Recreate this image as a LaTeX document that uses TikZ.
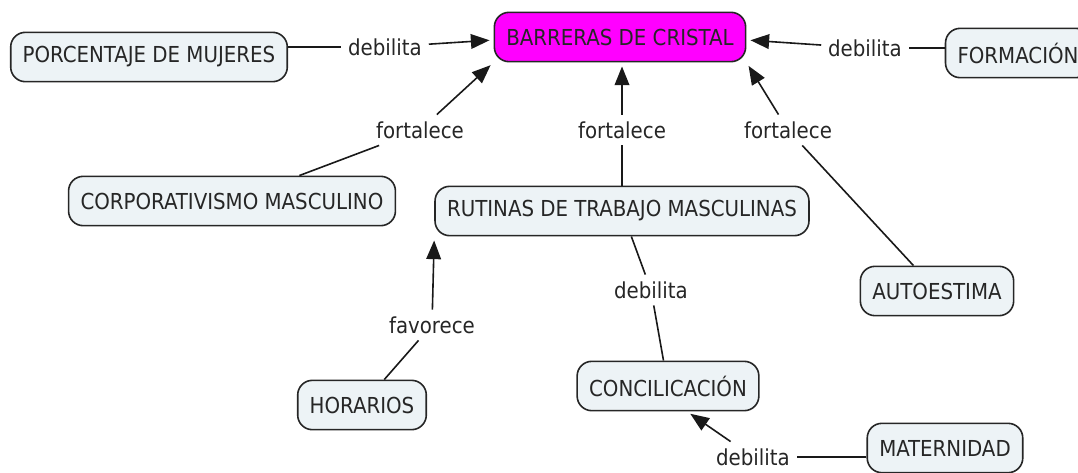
\documentclass[tikz,border=0pt]{standalone}
\usepackage{fontspec}
\setmainfont{DejaVu Sans Condensed}
\usetikzlibrary{calc,arrows.meta}
\definecolor{boxfill}{HTML}{EDF3F6}
\definecolor{boxline}{HTML}{262626}
\definecolor{cristal}{HTML}{FF00FF}
\tikzset{
	concept/.style={draw=boxline, line width=1.2pt, fill=boxfill, rounded corners=11pt,
		minimum height=37pt, inner xsep=9pt, text=black!85, font=\fontsize{16.5}{19}\selectfont},
	linklabel/.style={inner sep=5pt, text=black!85, font=\fontsize{16.5}{19}\selectfont},
	link/.style={line width=1.2pt, black!90},
	linkarrow/.style={link, -{Triangle[length=14pt, width=11pt]}, shorten >=3pt}
}

\begin{document}
\begin{tikzpicture}[x=0.75pt, y=-0.75pt]
		%%%%% START %%%%%
		\useasboundingbox (0, 0) rectangle (1078, 472);
		
		% conceptos
		\node[concept, fill=cristal] (barreras) at (620, 37) {BARRERAS DE CRISTAL};
		\node[concept] (porcentaje) at (149, 57) {PORCENTAJE DE MUJERES};
		\node[concept] (formacion) at (1018, 53) {FORMACIÓN};
		\node[concept] (corporativismo) at (232, 201) {CORPORATIVISMO MASCULINO};
		\node[concept] (rutinas) at (622, 211) {RUTINAS DE TRABAJO MASCULINAS};
		\node[concept] (autoestima) at (937, 291) {AUTOESTIMA};
		\node[concept] (horarios) at (362, 405) {HORARIOS};
		\node[concept] (concilicacion) at (668, 386) {CONCILICACIÓN};
		\node[concept] (maternidad) at (945, 448) {MATERNIDAD};
		
		% frases de enlace
		\node[linklabel] (debilitaA) at (385, 47) {debilita};
		\node[linklabel] (debilitaB) at (865, 48) {debilita};
		\node[linklabel] (fortaleceA) at (420, 130) {fortalece};
		\node[linklabel] (fortaleceB) at (622, 130) {fortalece};
		\node[linklabel] (fortaleceC) at (788, 130) {fortalece};
		\node[linklabel] (favorece) at (432, 325) {favorece};
		\node[linklabel] (debilitaC) at (651, 290) {debilita};
		\node[linklabel] (debilitaD) at (753, 457) {debilita};
		
		% enlaces
		\draw[link] (porcentaje.east |- debilitaA) -- (debilitaA);
		\draw[linkarrow] (debilitaA) -- ($(barreras.west)+(0, 3)$);
		\draw[link] (formacion.west |- debilitaB) -- (debilitaB);
		\draw[linkarrow] (debilitaB) -- ($(barreras.east)+(0, 3)$);
		
		\draw[link] (corporativismo) -- (fortaleceA);
		\draw[linkarrow] (fortaleceA) -- (barreras.south west);
		\draw[link] (rutinas) -- (fortaleceB);
		\draw[linkarrow] (fortaleceB) -- (barreras.south -| fortaleceB);
		\draw[link] (autoestima) -- (fortaleceC);
		\draw[linkarrow] (fortaleceC) -- (barreras.south east);
		
		\draw[link] (horarios) -- (favorece);
		\draw[linkarrow] (favorece) -- (rutinas.south west);
		\draw[link] (rutinas) -- (debilitaC) -- (concilicacion);
		
		\draw[link] (maternidad.west |- debilitaD) -- (debilitaD);
		\draw[linkarrow] (debilitaD) -- ($(concilicacion.south)+(19, 0)$);
		%%%%% END %%%%%
	\end{tikzpicture}
\end{document}
